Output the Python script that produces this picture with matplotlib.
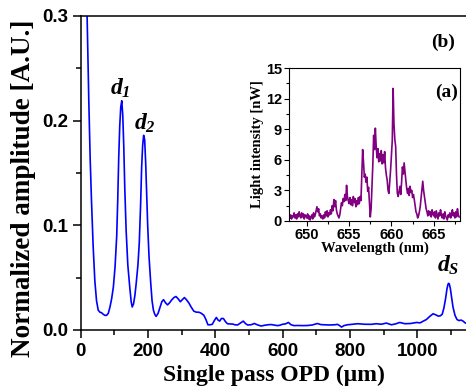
import numpy as np
import matplotlib
matplotlib.use("Agg")
import matplotlib.pyplot as plt
from matplotlib.ticker import MultipleLocator

plt.rcParams['mathtext.fontset'] = 'custom'
plt.rcParams['mathtext.it'] = 'Liberation Serif:italic:bold'
plt.rcParams['mathtext.rm'] = 'Liberation Serif:italic:bold'
plt.rcParams['mathtext.bf'] = 'Liberation Serif:italic:bold'

# main curve: single pass OPD (um) vs normalized amplitude
opd = [0, 8, 15, 19, 24, 28, 32, 37, 42, 47,
       52, 57, 62, 67, 72, 77, 82, 87, 92, 97,
       102, 107, 110, 113, 116, 119, 122, 125, 128, 131,
       135, 140, 146, 150, 153, 157, 161, 165, 170, 174,
       178, 181, 184, 187, 190, 193, 196, 199, 203, 208,
       212, 216, 220, 224, 230, 236, 241, 246, 252, 258,
       264, 271, 277, 283, 289, 296, 302, 308, 314, 321,
       328, 336, 344, 351, 358, 366, 372, 378, 385, 391,
       397, 403, 408, 413, 418, 424, 430, 436, 443, 451,
       458, 466, 474, 483, 490, 496, 506, 516, 526, 536,
       546, 556, 566, 576, 584, 591, 600, 608, 617, 625,
       634, 645, 660, 674, 688, 703, 713, 723, 740, 755,
       763, 770, 775, 782, 793, 808, 823, 843, 863, 878,
       893, 908, 923, 935, 948, 963, 980, 998, 1008, 1018,
       1027, 1037, 1047, 1055, 1062, 1068, 1074, 1079, 1084, 1088,
       1091, 1093, 1095, 1098, 1102, 1106, 1112, 1118, 1124, 1130,
       1136, 1142, 1150]
amp = [0.9, 0.6, 0.38, 0.30, 0.22, 0.165, 0.124, 0.08, 0.047, 0.028,
       0.019, 0.017, 0.0165, 0.015, 0.014, 0.014, 0.016, 0.022, 0.030, 0.041,
       0.060, 0.090, 0.124, 0.165, 0.195, 0.213, 0.219, 0.205, 0.175, 0.135,
       0.095, 0.062, 0.040, 0.027, 0.022, 0.025, 0.033, 0.045, 0.062, 0.083,
       0.12, 0.155, 0.176, 0.186, 0.182, 0.16, 0.13, 0.10, 0.07, 0.045,
       0.028, 0.019, 0.015, 0.013, 0.016, 0.022, 0.027, 0.029, 0.026, 0.024,
       0.026, 0.029, 0.031, 0.032, 0.030, 0.027, 0.029, 0.031, 0.029, 0.026,
       0.022, 0.018, 0.017, 0.017, 0.016, 0.014, 0.010, 0.005, 0.005, 0.0055,
       0.009, 0.012, 0.0095, 0.0085, 0.011, 0.011, 0.008, 0.006, 0.0058, 0.0057,
       0.005, 0.0048, 0.0065, 0.0085, 0.006, 0.0048, 0.005, 0.0062, 0.0048, 0.0038,
       0.0045, 0.005, 0.0052, 0.0046, 0.0042, 0.0045, 0.0055, 0.0058, 0.0072, 0.005,
       0.0042, 0.0043, 0.0042, 0.0043, 0.0048, 0.0062, 0.0052, 0.005, 0.0048, 0.005,
       0.0054, 0.004, 0.0028, 0.0042, 0.005, 0.0055, 0.006, 0.0055, 0.0054, 0.006,
       0.0055, 0.0066, 0.005, 0.0058, 0.0072, 0.006, 0.0062, 0.0072, 0.0068, 0.0085,
       0.010, 0.013, 0.0155, 0.0145, 0.0133, 0.0135, 0.015, 0.021, 0.030, 0.039,
       0.0435, 0.0446, 0.044, 0.040, 0.031, 0.022, 0.014, 0.010, 0.009, 0.0095,
       0.0085, 0.0068, 0.006]

# inset spectrum, 648.0 .. 668.0 nm in 0.1 nm steps
wl_start, wl_step = 648.0, 0.1
intensity = [0.3, 0.6, 0.2, 0.5, 0.4, 0.8, 0.3, 0.6, 0.2, 0.7,
             0.4, 0.9, 0.5, 0.3, 0.8, 0.4, 0.7, 0.2, 0.6, 0.5,
             0.3, 0.7, 0.2, 0.5, 0.1, 0.4, 0.6, 0.2, 0.8, 0.4,
             0.6, 1.0, 1.4, 0.9, 1.2, 0.5, 0.7, 0.3, 0.5, 0.2,
             0.6, 0.3, 0.9, 0.5, 1.0, 0.4, 0.8, 0.6, 1.1, 0.7,
             1.5, 1.0, 2.1, 1.4, 2.0, 1.1, 0.7, 0.5, 0.3, 0.6,
             1.2, 1.8, 1.5, 2.2, 1.9, 2.6, 2.0, 3.5, 2.4, 2.0,
             1.7, 2.3, 1.6, 2.1, 1.5, 2.4, 1.8, 2.2, 1.4, 2.0,
             1.6, 2.3, 1.7, 2.4, 2.0, 4.5, 7.0, 5.8, 4.3, 4.6,
             3.8, 4.3, 2.9, 3.3, 1.8, 0.4, 1.2, 3.4, 5.5, 8.4,
             7.0, 9.1, 7.3, 6.2, 7.1, 5.8, 6.6, 5.9, 6.9, 5.6,
             6.5, 5.7, 6.8, 5.2, 4.5, 4.0, 3.0, 2.7, 3.9, 5.0,
             6.5, 7.9, 13.0, 9.5, 8.0, 7.3, 4.5, 2.7, 2.4, 2.9,
             3.4, 2.6, 3.8, 5.3, 4.6, 5.7, 4.8, 4.0, 3.2, 2.7,
             3.2, 2.5, 3.4, 2.8, 3.0, 2.3, 2.6, 2.1, 1.5, 0.9,
             0.7, 0.3, 0.5, 0.9, 1.4, 2.2, 3.0, 3.9, 3.0, 2.4,
             1.8, 1.2, 0.9, 0.5, 1.0, 0.6, 0.9, 0.4, 1.1, 0.7,
             0.5, 0.9, 0.3, 1.0, 0.6, 0.2, 0.8, 0.5, 1.1, 0.6,
             0.3, 0.7, 0.2, 0.9, 0.5, 0.3, 0.1, 0.6, 0.4, 0.8,
             0.3, 0.6, 1.1, 0.5, 0.8, 0.3, 0.9, 0.4, 1.2, 0.6,
             0.4]
wavelength = wl_start + wl_step * np.arange(len(intensity))

main_yticks = [0.0, 0.1, 0.2, 0.3]
main_xticks = [0, 200, 400, 600, 800, 1000]
inset_yticks = [0, 3, 6, 9, 12, 15]
inset_xticks = [650, 655, 660, 665]

serif_b = {'family': 'Liberation Serif', 'weight': 'bold'}

fig = plt.figure(figsize=(4.66, 3.9), dpi=100)

ax = fig.add_axes([80.7 / 466, 60 / 390, 1150 * 0.3366 / 466, 314 / 390])
ax.plot(opd, amp, color='#0000ff', lw=1.2)
ax.set_xlim(0, 1150)
ax.set_ylim(0, 0.3)
ax.set_xticks(main_xticks)
ax.set_yticks(main_yticks)
ax.set_yticklabels(['%.1f' % v for v in main_yticks])
ax.xaxis.set_minor_locator(MultipleLocator(100))
ax.yaxis.set_minor_locator(MultipleLocator(0.05))
ax.tick_params(which='both', direction='out', top=False, right=False, width=1.1)
ax.tick_params(which='major', length=6, pad=3, labelsize=13.5)
ax.tick_params(which='minor', length=3.5)
for lab in ax.get_xticklabels() + ax.get_yticklabels():
    lab.set_fontfamily('Liberation Sans')
    lab.set_fontweight('bold')
for s in ax.spines.values():
    s.set_linewidth(1.1)
ax.spines['right'].set_visible(False)

fig.text(24 / 466, 1 - 188 / 390, 'Normalized amplitude [A.U.]', rotation=90,
         ha='center', va='center', fontsize=19.5, **serif_b)
fig.text(274 / 466, 15 / 390, 'Single pass OPD (\u03bcm)', ha='center', va='center',
         fontsize=17, **serif_b)

ax.text(117, 0.231, r'$d_1$', fontsize=17, ha='center', va='center')
ax.text(191, 0.198, r'$d_2$', fontsize=17, ha='center', va='center')
ax.text(1091, 0.062, r'$d_S$', fontsize=17, ha='center', va='center')
fig.text(443 / 466, 1 - 42 / 390, '(b)', ha='center', va='center', fontsize=14, **serif_b)

# inset
axi = fig.add_axes([289 / 466, (390 - 221) / 390, 171 / 466, 153 / 390])
axi.plot(wavelength, intensity, color='#800080', lw=1.2)
axi.set_xlim(647.9, 668.1)
axi.set_ylim(0, 15)
axi.set_xticks(inset_xticks)
axi.set_yticks(inset_yticks)
axi.xaxis.set_minor_locator(MultipleLocator(2.5))
axi.yaxis.set_minor_locator(MultipleLocator(1.5))
axi.tick_params(which='both', direction='out', width=0.8, top=False, right=False)
axi.tick_params(which='major', length=3.5, pad=1.5, labelsize=10.5)
axi.tick_params(which='minor', length=2)
for lab in axi.get_xticklabels() + axi.get_yticklabels():
    lab.set_fontfamily('Liberation Sans')
    lab.set_fontweight('bold')
for s in axi.spines.values():
    s.set_linewidth(0.8)
axi.set_ylabel('Light intensity [nW]', fontsize=10.5, labelpad=1.5, **serif_b)
axi.set_xlabel('Wavelength (nm)', fontsize=10.5, labelpad=0, **serif_b)
axi.text(0.99, 0.84, '(a)', transform=axi.transAxes, ha='right', va='center',
         fontsize=14, **serif_b)

fig.savefig('out.png', dpi=100)
